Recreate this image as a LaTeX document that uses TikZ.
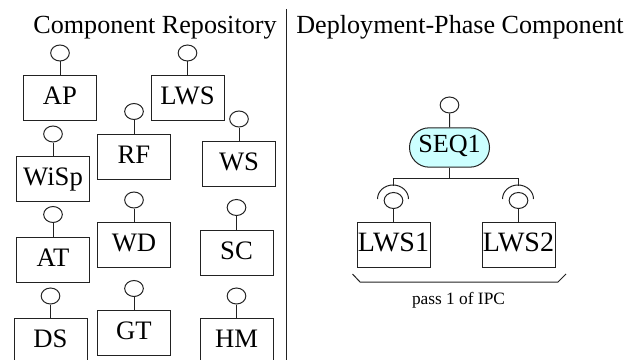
\documentclass[tikz,border=0pt]{standalone}
\usepackage{fontspec}
\setmainfont{Liberation Serif}
\usetikzlibrary{shapes.geometric,shapes.misc}
\definecolor{seqfill}{HTML}{CCFFFF}
\definecolor{ln}{HTML}{222222}
\tikzset{
  x=0.75pt,y=-0.75pt,
  compbox/.style={draw=ln,line width=0.75pt,rectangle,minimum width=54.75pt,minimum height=34.25pt,inner sep=0pt,text height=9pt,text depth=0pt,font=\fontsize{20}{22}\selectfont},
  wide/.style={text height=10pt,font=\fontsize{21}{22}\selectfont},
  port/.style={draw=ln,line width=0.75pt,ellipse,minimum width=14pt,minimum height=12pt,inner sep=0pt},
  title/.style={inner sep=0pt,font=\fontsize{19.6}{22}\selectfont,anchor=base},
  seqbox/.style={draw=ln,line width=0.75pt,fill=seqfill,rounded rectangle,minimum width=60pt,minimum height=29.5pt,inner sep=0pt,text height=7.8pt,text depth=0pt,font=\fontsize{19.6}{22}\selectfont},
  stem/.style={draw=ln,line width=0.75pt},
  note/.style={inner sep=0pt,font=\fontsize{13}{15}\selectfont,anchor=base}
}
\begin{document}
\begin{tikzpicture}
\useasboundingbox (0,0) rectangle (628,360);
\clip (0,0) rectangle (628,360);
\node[title] (t1) at (155,33.5) {Component Repository};
\node[title] (t2) at (460,33.5) {Deployment-Phase Component};
\coordinate (vt) at (286.5,9);
\coordinate (vb) at (286.5,360);
\draw[stem] (vt) -- (vb);
% repository
\node[compbox] (ap) at (60,98) {AP};
\node[port] (pap) at (60,53) {};
\draw[stem] (pap) -- (ap);
\node[compbox] (lws) at (187.5,98) {LWS};
\node[port] (plws) at (187.5,53) {};
\draw[stem] (plws) -- (lws);
\node[compbox] (rf) at (134,157) {RF};
\node[port] (prf) at (134,111.5) {};
\draw[stem] (prf) -- (rf);
\node[compbox] (ws) at (239,164) {WS};
\node[port] (pws) at (239,119) {};
\draw[stem] (pws) -- (ws);
\node[compbox] (wisp) at (53,179) {WiSp};
\node[port] (pwisp) at (53,134) {};
\draw[stem] (pwisp) -- (wisp);
\node[compbox] (at) at (53,260) {AT};
\node[port] (pat) at (53,214.5) {};
\draw[stem] (pat) -- (at);
\node[compbox] (wd) at (134,245) {WD};
\node[port] (pwd) at (134,200) {};
\draw[stem] (pwd) -- (wd);
\node[compbox] (sc) at (236.5,253) {SC};
\node[port] (psc) at (236.5,207.5) {};
\draw[stem] (psc) -- (sc);
\node[compbox] (ds) at (50.5,341) {DS};
\node[port] (pds) at (50.5,296) {};
\draw[stem] (pds) -- (ds);
\node[compbox] (gt) at (134,333) {GT};
\node[port] (pgt) at (134,288.5) {};
\draw[stem] (pgt) -- (gt);
\node[compbox] (hm) at (236.5,341) {HM};
\node[port] (phm) at (236.5,296) {};
\draw[stem] (phm) -- (hm);
% deployment
\node[seqbox] (seq) at (449.5,147.5) {SEQ1};
\node[port] (pseq) at (449.5,105) {};
\draw[stem] (pseq) -- (seq);
\node[compbox,wide] (l1) at (393.5,245) {LWS1};
\node[compbox,wide] (l2) at (518.5,245) {LWS2};
\node[port] (p1) at (393.5,200.5) {};
\node[port] (p2) at (518.5,200.5) {};
\draw[stem] (p1) -- (l1);
\draw[stem] (p2) -- (l2);
\coordinate (r1) at (393,186);
\coordinate (r2) at (518,186);
\coordinate (bus) at (449.5,178.5);
\draw[stem] (seq.south) -- (bus);
\draw[stem] (r1) -- (r1 |- bus) -- (r2 |- bus) -- (r2);
\draw[stem] (377.5,199) arc[start angle=180,end angle=0,x radius=15.5,y radius=-14];
\draw[stem] (502.5,199) arc[start angle=180,end angle=0,x radius=15.5,y radius=-14];
\coordinate (b1) at (352.5,274);
\coordinate (b2) at (360,282);
\coordinate (b3) at (558,282);
\coordinate (b4) at (566,274);
\draw[stem] (b1) -- (b2) -- (b3) -- (b4);
\node[note] (pass) at (458.5,304.5) {pass 1 of IPC};
\end{tikzpicture}
\end{document}
